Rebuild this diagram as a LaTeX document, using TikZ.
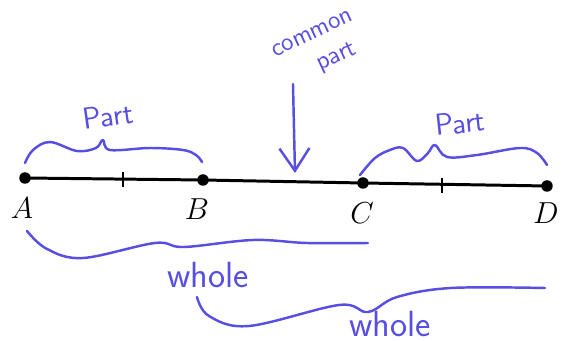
\documentclass[tikz,border=0pt]{standalone}
\usepackage{tikz}
\usetikzlibrary{arrows.meta, positioning, calc}
\definecolor{penblue}{RGB}{88,78,226}
\tikzset{
    dot/.style={circle, fill=black, inner sep=0pt, minimum size=2.3mm},
    seg/.style={line width=1.7pt, black},
    tick/.style={line width=1.5pt, black},
    ptlabel/.style={font=\LARGE},
    pen/.style={line width=1.4pt, penblue, line cap=round, line join=round},
    pentext/.style={text=penblue, font=\sffamily\LARGE, inner sep=0pt},
    arrow/.style={pen, -{Straight Barb[length=4.5mm, width=6mm]}}
}
\begin{document}
\begin{tikzpicture}[x=0.02cm, y=-0.02cm]
            \useasboundingbox (0,0) rectangle (566,341);
            % Segment and points
            \node[dot] (A) at (25,178) {};
            \node[dot] (B) at (203,180) {};
            \node[dot] (C) at (363,183) {};
            \node[dot] (D) at (547,186) {};
            \draw[seg] (A.center) -- (B.center) -- (C.center) -- (D.center);
            \coordinate (mAB) at (123,179);
            \coordinate (mCD) at (442,185);
            \draw[tick] (mAB) ++(0,-7) -- ++(0,15);
            \draw[tick] (mCD) ++(0,-7) -- ++(0,15);
            \node[ptlabel] (lA) at (22,208) {$A$};
            \node[ptlabel] (lB) at (197,209) {$B$};
            \node[ptlabel] (lC) at (362,213) {$C$};
            \node[ptlabel] (lD) at (546,213) {$D$};
            
            % Parts
            \draw[pen] plot[smooth, tension=0.6] coordinates {(25,163) (33,150) (50,142) (77,151) (96,148) (103,140) (110,150) (150,148) (183,150) (196,155) (202,162)};
            \node[pentext, rotate=8] (partAB) at (108,116) {Part};
            \draw[pen] plot[smooth, tension=0.6] coordinates {(360,175) (375,158) (390,150) (403,148) (417,161) (428,153) (435,145) (447,157) (477,155) (520,148) (537,153) (547,165)};
            \node[pentext, rotate=6] (partCD) at (460,123) {Part};
            
            % Common part
            \node[pentext, font=\sffamily\Large, align=left, rotate=25] (common) at (320,50) {common\\\hspace{1.4em}part};
            \coordinate (tail) at (293,84);
            \coordinate (tip) at (295,173);
            \draw[arrow] (tail) -- (tip);
            
            % Wholes
            \draw[pen] plot[smooth, tension=0.6] coordinates {(27,231) (47,249) (83,258) (155,243) (184,247) (253,240) (307,243) (368,243)};
            \node[pentext, font=\sffamily\huge] (wholeAC) at (208,275) {whole};
            \draw[pen] plot[smooth, tension=0.6] coordinates {(197,297) (209,316) (249,326) (339,305) (368,312) (397,297) (451,288) (545,288)};
            \node[pentext, font=\sffamily\huge] (wholeBD) at (390,324) {whole};
\end{tikzpicture}
\end{document}
